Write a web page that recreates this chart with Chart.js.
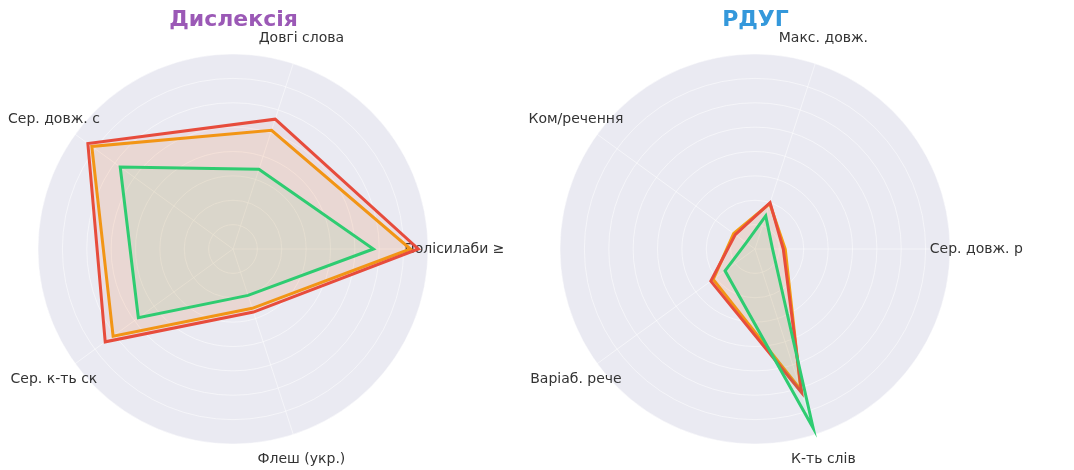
<!DOCTYPE html>
<html>
<head>
<meta charset="utf-8">
<script src="https://cdn.jsdelivr.net/npm/chart.js@4.4.0/dist/chart.umd.min.js"></script>
<style>
  body { margin: 0; background: #fff; width: 1074px; height: 470px; position: relative; overflow: hidden; }
  .box { position: absolute; top: 0; height: 470px; }
</style>
</head>
<body>
<div class="box" style="left:0px; width:537px"><canvas id="radarDys"></canvas></div>
<div class="box" style="left:522px; width:552px"><canvas id="radarAdhd"></canvas></div>
<script>
// Категорії (проти годинникової стрілки, починаючи справа)
const dysLabels = ['Полісилаби ≥', 'Довгі слова', 'Сер. довж. с', 'Сер. к-ть ск', 'Флеш (укр.)'];
const adhdLabels = ['Сер. довж. р', 'Макс. довж.', 'Ком/речення', 'Варіаб. рече', 'К-ть слів'];

// Нормовані значення (0..1)
const dysRed = [0.95, 0.70, 0.92, 0.81, 0.34];
const dysOrange = [0.91, 0.64, 0.895, 0.76, 0.32];
const dysGreen = [0.72, 0.43, 0.715, 0.60, 0.25];

const adhdRed = [0.145, 0.25, 0.125, 0.28, 0.775];
const adhdOrange = [0.155, 0.245, 0.135, 0.265, 0.76];
const adhdGreen = [0.09, 0.178, 0.055, 0.19, 0.965];

// Chart.js іде за годинниковою стрілкою, matplotlib — проти
const ccw = a => [a[0], ...a.slice(1).reverse()];

const labelFont = '14px "DejaVu Sans"';

const outerLabels = {
    id: 'outerLabels',
    beforeDatasetsDraw(chart) {
        const scale = chart.scales.r;
        const ctx = chart.ctx;
        ctx.save();
        ctx.font = labelFont;
        ctx.fillStyle = '#333';
        ctx.textAlign = 'center';
        ctx.textBaseline = 'middle';
        chart.data.labels.forEach((lab, i) => {
            const p = scale.getPointPosition(i, scale.drawingArea * 1.135);
            ctx.fillText(lab, p.x, p.y);
        });
        ctx.restore();
    }
};

function makeRadar(id, padRight, title, titleColor, labels, red, orange, green) {
    new Chart(document.getElementById(id), {
        type: 'radar',
        data: {
            labels: ccw(labels),
            datasets: [
                { data: ccw(green), borderColor: '#2ecc71', backgroundColor: 'rgba(46,204,113,0.08)' },
                { data: ccw(red), borderColor: '#e74c3c', backgroundColor: 'rgba(231,76,60,0.08)' },
                { data: ccw(orange), borderColor: '#f39c12', backgroundColor: 'rgba(243,156,18,0.08)' }
            ]
        },
        options: {
            responsive: true,
            maintainAspectRatio: false,
            animation: false,
            layout: { padding: { bottom: 26, right: padRight } },
            elements: {
                line: { borderWidth: 3, tension: 0, fill: true },
                point: { radius: 0, hoverRadius: 0 }
            },
            scales: {
                r: {
                    min: 0,
                    max: 1,
                    startAngle: 90,
                    backgroundColor: '#eaeaf2',
                    grid: { circular: true, color: 'rgba(255,255,255,0.5)', lineWidth: 1 },
                    angleLines: { color: 'rgba(255,255,255,0.5)', lineWidth: 1 },
                    ticks: { display: false, stepSize: 0.125 },
                    pointLabels: { display: false }
                }
            },
            plugins: {
                legend: { display: false },
                tooltip: { enabled: false },
                title: {
                    display: true,
                    text: title,
                    color: titleColor,
                    font: { family: 'DejaVu Sans', size: 22, weight: 'bold', lineHeight: 1.2 },
                    padding: { top: 7, bottom: 20.6 }
                }
            }
        },
        plugins: [outerLabels]
    });
}

makeRadar('radarDys', 70, 'Дислексія', '#9b59b6', dysLabels, dysRed, dysOrange, dysGreen);
makeRadar('radarAdhd', 85, 'РДУГ', '#3498db', adhdLabels, adhdRed, adhdOrange, adhdGreen);
</script>
</body>
</html>
